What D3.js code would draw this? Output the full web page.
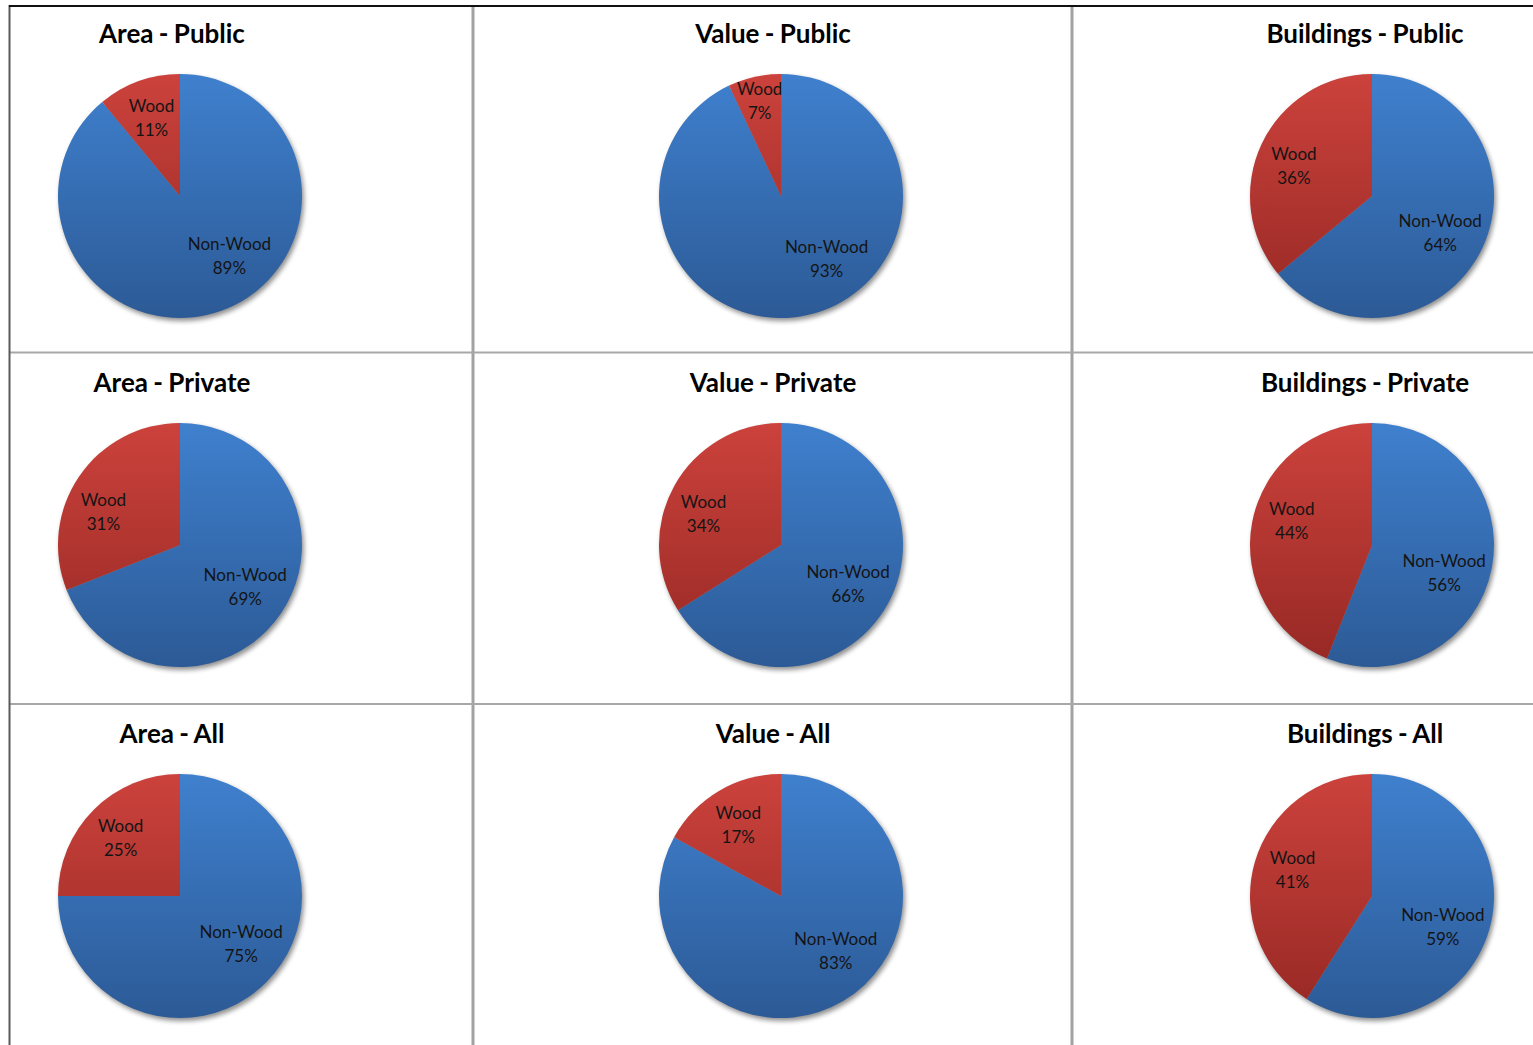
<!DOCTYPE html>
<html>
<head>
<meta charset="utf-8">
<script src="https://cdn.jsdelivr.net/npm/d3@7"></script>
<style>
  html, body { margin: 0; padding: 0; background: #fff; overflow: hidden; }
  svg { display: block; }
</style>
</head>
<body>
<svg id="chart" width="1533" height="1045"></svg>
<script>
// ---- data ----
const metrics = ["Area", "Value", "Buildings"];
const groups = ["Public", "Private", "All"];
const categories = ["Non-Wood", "Wood"];
// rows = groups, columns = metrics
const nonWoodPct = [
  [89, 93, 64],
  [69, 66, 56],
  [75, 83, 59]
];
const woodPct = [
  [11, 7, 36],
  [31, 34, 44],
  [25, 17, 41]
];

// ---- layout ----
const W = 1533, H = 1045;
const svg = d3.select("#chart");
const R = 122;
const pieCX = [180, 781, 1372];
const pieCY = [196, 545, 896];
const titleCX = [172, 773, 1365];
const titleBase = [43, 392, 743];

const defs = svg.append("defs");
const grads = [
  { id: "gBlue", top: "#3f80ce", bottom: "#2c5a96" },
  { id: "gRed", top: "#cc423c", bottom: "#962824" }
];
grads.forEach(g => {
  const lg = defs.append("linearGradient").attr("id", g.id)
    .attr("gradientUnits", "userSpaceOnUse")
    .attr("x1", 0).attr("y1", -R).attr("x2", 0).attr("y2", R);
  lg.append("stop").attr("offset", "0%").attr("stop-color", g.top);
  lg.append("stop").attr("offset", "100%").attr("stop-color", g.bottom);
});
const color = d3.scaleOrdinal().domain(categories).range(["url(#gBlue)", "url(#gRed)"]);

const f = defs.append("filter").attr("id", "shadow")
  .attr("x", "-20%").attr("y", "-20%").attr("width", "140%").attr("height", "140%");
f.append("feGaussianBlur").attr("in", "SourceAlpha").attr("stdDeviation", 2.5);
f.append("feOffset").attr("dx", 1.5).attr("dy", 2.5).attr("result", "ob");
f.append("feComponentTransfer").append("feFuncA").attr("type", "linear").attr("slope", 0.45);

// ---- grid ----
const grid = svg.append("g");
[473, 1072].forEach(x => {
  grid.append("line").attr("x1", x).attr("x2", x).attr("y1", 6).attr("y2", H)
    .attr("stroke", "#a2a2a2").attr("stroke-width", 3);
});
[352.5, 704].forEach(y => {
  grid.append("line").attr("x1", 10).attr("x2", W).attr("y1", y).attr("y2", y)
    .attr("stroke", "#a8a8a8").attr("stroke-width", 2);
});
grid.append("line").attr("x1", 9.5).attr("x2", 9.5).attr("y1", 5).attr("y2", H)
  .attr("stroke", "#5a5a5a").attr("stroke-width", 2);
grid.append("line").attr("x1", 9).attr("x2", W).attr("y1", 6).attr("y2", 6)
  .attr("stroke", "#111").attr("stroke-width", 2);

// ---- pies ----
const pie = d3.pie().sort(null).value(d => d.v);
const arc = d3.arc().innerRadius(0).outerRadius(R);

const toDeg = a => a * 180 / Math.PI;
const toRad = a => a * Math.PI / 180;

groups.forEach((grp, gi) => {
  metrics.forEach((met, mi) => {
    const data = [
      { k: categories[0], v: nonWoodPct[gi][mi] },
      { k: categories[1], v: woodPct[gi][mi] }
    ];
    svg.append("text")
      .attr("x", titleCX[mi]).attr("y", titleBase[gi])
      .attr("text-anchor", "middle")
      .attr("font-family", "Lato, 'Open Sans', sans-serif")
      .attr("font-weight", 700).attr("font-size", 26)
      .attr("word-spacing", -1)
      .attr("fill", "#000")
      .text(met + " - " + grp);

    const g = svg.append("g").attr("transform", `translate(${pieCX[mi]},${pieCY[gi]})`);
    g.append("circle").attr("r", R).attr("fill", "#000").attr("filter", "url(#shadow)");
    const arcs = pie(data);
    g.selectAll("path.slice").data(arcs).join("path")
      .attr("class", "slice")
      .attr("d", arc)
      .attr("fill", d => color(d.data.k));

    arcs.forEach(d => {
      const mid = toDeg((d.startAngle + d.endAngle) / 2);
      let ang, rr;
      if (d.data.k === "Non-Wood") {
        ang = 110 + (mid - 100) * 0.5;
        rr = 77;
      } else {
        ang = mid < 312 ? 290 + (mid - 290) * 0.3 : mid;
        rr = d.data.v < 10 ? 98 : 84;
      }
      const x = Math.sin(toRad(ang)) * rr;
      const y = -Math.cos(toRad(ang)) * rr;
      const t = g.append("text")
        .attr("text-anchor", "middle")
        .attr("font-family", "Lato, 'Open Sans', sans-serif")
        .attr("font-size", 17)
        .attr("fill", "#141414");
      t.append("tspan").attr("x", x).attr("y", y - 5).text(d.data.k);
      t.append("tspan").attr("x", x).attr("y", y + 19).text(d.data.v + "%");
    });
  });
});
</script>
</body>
</html>
